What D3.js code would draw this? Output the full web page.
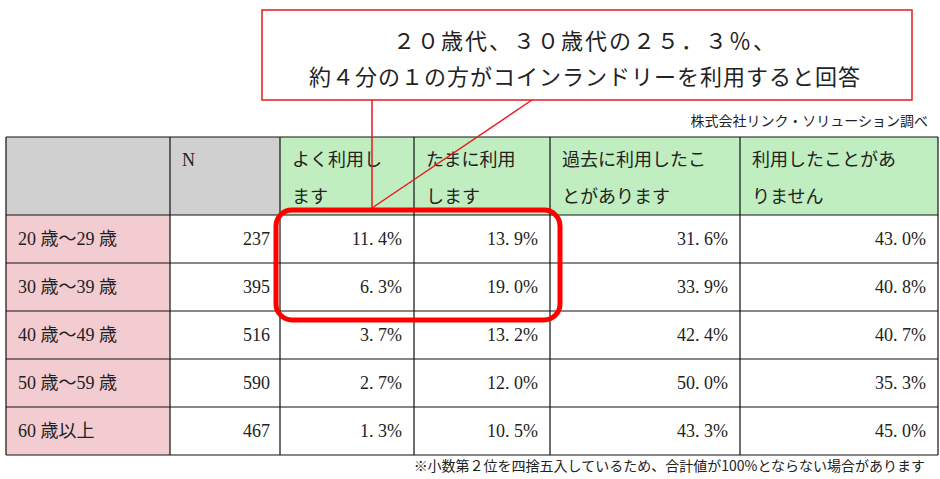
<!DOCTYPE html><html><head><meta charset="utf-8"><script src="https://cdn.jsdelivr.net/npm/d3@7"></script>
<style>body{margin:0;background:#fff}svg{display:block}</style></head><body><svg width="940" height="479"></svg>
<script>
const headers=["","N","よく利用し|ます","たまに利用|します","過去に利用したこ|とがあります","利用したことがあ|りません"];
const ageGroups=["20 歳～29 歳","30 歳～39 歳","40 歳～49 歳","50 歳～59 歳","60 歳以上"];
const nValues=[237,395,516,590,467];
const often=[11.4,6.3,3.7,2.7,1.3];
const sometimes=[13.9,19.0,13.2,12.0,10.5];
const past=[31.6,33.9,42.4,50.0,43.3];
const never=[43.0,40.8,40.7,35.3,45.0];
const series=[often,sometimes,past,never];
const colEdges=[6,170,280,414,550,740,938];
const svg=d3.select("svg");
const font="'Liberation Serif','Noto Sans CJK JP',serif";
const y=d3.scaleBand().domain(d3.range(ageGroups.length)).range([215,455]);
const hdrTop=137,hdrBot=215;
const x=i=>colEdges[i], w=i=>colEdges[i+1]-colEdges[i];
const hdrFill=i=>i<2?"#d0d0d0":"#c0eec0";
// header cells
headers.forEach((h,i)=>{
  svg.append("rect").attr("x",x(i)).attr("y",hdrTop).attr("width",w(i)).attr("height",hdrBot-hdrTop).attr("fill",hdrFill(i));
  h.split("|").forEach((t,k)=>{ if(!t) return;
    svg.append("text").attr("x",x(i)+12).attr("y",hdrTop+29+k*37).attr("font-family",font).attr("font-size",18).attr("fill","#222").text(t);});
});
ageGroups.forEach((a,r)=>{
  const yy=y(r),h=y.bandwidth();
  svg.append("rect").attr("x",x(0)).attr("y",yy).attr("width",w(0)).attr("height",h).attr("fill","#f2ccd0");
  svg.append("text").attr("x",x(0)+12).attr("y",yy+h/2+6).attr("font-family",font).attr("font-size",18).attr("fill","#222").text(a);
  svg.append("text").attr("x",x(2)-10).attr("y",yy+h/2+6).attr("text-anchor","end").attr("font-family",font).attr("font-size",18).attr("fill","#222").text(nValues[r]);
  series.forEach((s,c)=>{
    svg.append("text").attr("x",x(c+3)-12).attr("y",yy+h/2+6).attr("text-anchor","end").attr("font-family",font).attr("font-size",18).attr("fill","#222").text(s[r].toFixed(1).replace(".",". ")+"%");
  });
});
// grid
const g=svg.append("g").attr("stroke","#111").attr("stroke-width",1.2);
colEdges.forEach(c=>g.append("line").attr("x1",c).attr("x2",c).attr("y1",hdrTop).attr("y2",455));
[hdrTop,...ageGroups.map((_,r)=>y(r)),455].forEach(v=>g.append("line").attr("x1",6).attr("x2",938).attr("y1",v).attr("y2",v));
// callout
svg.append("rect").attr("x",262).attr("y",10).attr("width",650).attr("height",90).attr("fill","#fff").attr("stroke","#e8191e").attr("stroke-width",1.5);
svg.append("line").attr("x1",372).attr("y1",100).attr("x2",372).attr("y2",208).attr("stroke","#e8191e").attr("stroke-width",1.5);
svg.append("line").attr("x1",532).attr("y1",100).attr("x2",372).attr("y2",208).attr("stroke","#e8191e").attr("stroke-width",1.5);
svg.append("text").attr("x",585).attr("y",49).attr("text-anchor","middle").attr("font-family",font).attr("font-size",22).attr("fill","#222").attr("letter-spacing",2).text("２０歳代、３０歳代の２５．３％、");
svg.append("text").attr("x",585).attr("y",85).attr("text-anchor","middle").attr("font-family",font).attr("font-size",22).attr("fill","#222").attr("letter-spacing",1).text("約４分の１の方がコインランドリーを利用すると回答");
svg.append("rect").attr("x",276).attr("y",210).attr("width",284).attr("height",110).attr("rx",16).attr("fill","none").attr("stroke","#f00").attr("stroke-width",5);
svg.append("text").attr("x",928).attr("y",126).attr("text-anchor","end").attr("font-family","'Noto Sans CJK JP'").attr("font-size",14).attr("fill","#222").text("株式会社リンク・ソリューション調べ");
svg.append("text").attr("x",925).attr("y",471).attr("text-anchor","end").attr("font-family","'Noto Sans CJK JP'").attr("font-size",14).attr("fill","#222").text("※小数第２位を四捨五入しているため、合計値が100%とならない場合があります");
</script></body></html>
